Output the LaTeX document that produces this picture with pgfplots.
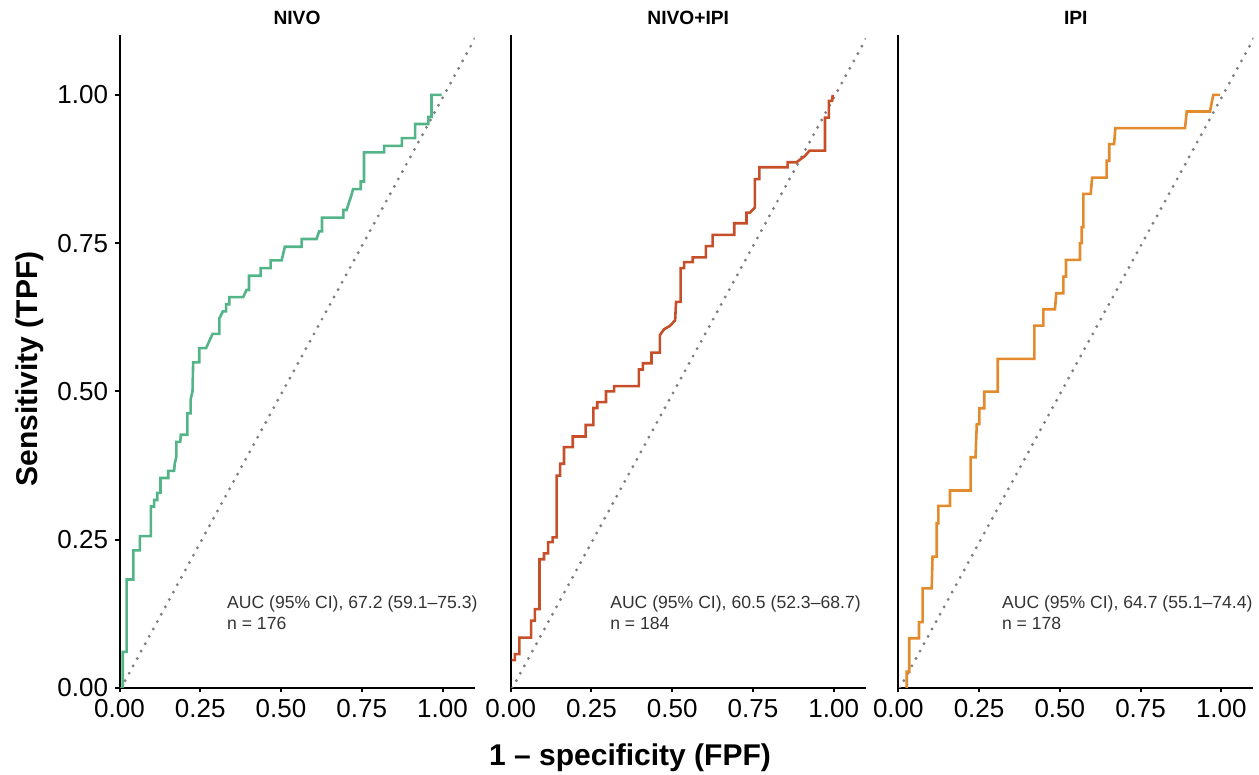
\documentclass[border=0pt]{standalone}
\usepackage{pgfplots}
\pgfplotsset{compat=1.18}
\usepackage{fontspec}
\setmainfont{Liberation Sans}
\definecolor{cgreen}{HTML}{52B487}
\definecolor{cred}{HTML}{C64F2A}
\definecolor{corange}{HTML}{E38A2C}
\definecolor{cdiag}{HTML}{7F7F7F}
\definecolor{ctext}{HTML}{333333}
\pgfplotsset{
  rocpanel/.style={
    scale only axis, width=177.5pt, height=326.5pt,
    anchor=south west,
    xmin=0, xmax=1.099, ymin=0, ymax=1.101,
    axis lines=left,
    axis line style={-, line width=1pt, black},
    tick align=outside,
    major tick length=2.2pt,
    tick style={line width=1pt, black},
    xtick={0,0.25,0.5,0.75,1},
    xticklabels={0.00,0.25,0.50,0.75,1.00},
    /pgf/number format/assume math mode=true,
    ticklabel style={font=\fontsize{13}{15}\selectfont, text=black},
    title style={at={(0.5,1)}, anchor=base, yshift=-1pt, font=\bfseries\fontsize{9.6}{11}\selectfont},
    clip mode=individual,
  },
  rocline/.style={line width=1.3pt, line join=miter},
  diagline/.style={cdiag, line width=1.6pt, line cap=round, dash pattern=on 0pt off 4.2pt},
}
\newcommand{\annot}[3]{%
  \node[anchor=base west, inner sep=0pt, text=ctext, font=\fontsize{8.8}{10}\selectfont] at (axis cs:#1,0.134) {#2};
  \node[anchor=base west, inner sep=0pt, text=ctext, font=\fontsize{8.8}{10}\selectfont] at (axis cs:#1,0.098) {#3};
}
\begin{document}
\begin{tikzpicture}
\useasboundingbox (0,0) rectangle (629.5pt,387.5pt);

% ---------- NIVO ----------
\begin{axis}[rocpanel, at={(59.75pt,43.5pt)}, title={NIVO},
  ytick={0,0.25,0.5,0.75,1}, yticklabels={0.00,0.25,0.50,0.75,1.00}]
\addplot[diagline] coordinates {(0.005,0) (1.105,1.1)};
\addplot[rocline, cgreen] coordinates {
(0.01,0)(0.01,0.061)(0.022,0.061)(0.022,0.183)(0.043,0.183)(0.043,0.232)(0.063,0.232)(0.063,0.256)
(0.097,0.256)(0.097,0.306)(0.107,0.306)(0.107,0.317)(0.117,0.317)(0.117,0.329)(0.127,0.329)(0.127,0.354)
(0.151,0.354)(0.151,0.366)(0.169,0.366)(0.171,0.378)(0.176,0.39)(0.176,0.415)(0.188,0.415)(0.19,0.427)
(0.21,0.427)(0.21,0.463)(0.22,0.463)(0.22,0.486)(0.226,0.50)(0.228,0.549)(0.247,0.549)(0.247,0.573)
(0.268,0.573)(0.288,0.597)(0.309,0.597)(0.309,0.623)(0.32,0.635)(0.33,0.635)(0.33,0.647)(0.34,0.647)
(0.34,0.659)(0.383,0.659)(0.393,0.671)(0.401,0.671)(0.401,0.695)(0.437,0.695)(0.437,0.708)(0.468,0.708)
(0.468,0.721)(0.502,0.721)(0.512,0.744)(0.564,0.744)(0.564,0.757)(0.61,0.757)(0.618,0.77)(0.627,0.77)
(0.627,0.793)(0.693,0.793)(0.693,0.806)(0.703,0.806)(0.718,0.831)(0.723,0.841)(0.747,0.841)(0.747,0.854)
(0.757,0.854)(0.757,0.903)(0.819,0.903)(0.819,0.914)(0.874,0.914)(0.874,0.927)(0.915,0.927)(0.915,0.951)
(0.956,0.951)(0.956,0.963)(0.966,0.963)(0.966,1.0)(0.997,1.0)};
\annot{0.332}{AUC (95\% CI), 67.2 (59.1–75.3)}{n = 176}
\end{axis}

% ---------- NIVO+IPI ----------
\begin{axis}[rocpanel, at={(255.35pt,43.5pt)}, title={NIVO+IPI}, ytick=\empty]
\addplot[diagline] coordinates {(0.005,0) (1.105,1.1)};
\addplot[rocline, cred] coordinates {
(0.003,0.047)(0.013,0.047)(0.013,0.057)(0.027,0.057)(0.027,0.085)(0.063,0.085)(0.063,0.1135)(0.075,0.1135)
(0.075,0.133)(0.089,0.133)(0.089,0.217)(0.103,0.217)(0.103,0.227)(0.116,0.227)(0.116,0.246)(0.13,0.246)
(0.13,0.254)(0.142,0.254)(0.142,0.358)(0.153,0.358)(0.153,0.378)(0.165,0.378)(0.165,0.406)(0.192,0.406)
(0.192,0.424)(0.232,0.424)(0.232,0.4435)(0.256,0.4435)(0.256,0.472)(0.268,0.472)(0.268,0.482)(0.295,0.482)
(0.295,0.50)(0.32,0.50)(0.32,0.509)(0.397,0.509)(0.397,0.537)(0.409,0.537)(0.409,0.5475)(0.436,0.5475)
(0.436,0.5655)(0.462,0.5655)(0.462,0.595)(0.475,0.605)(0.493,0.6105)(0.509,0.62)(0.512,0.651)(0.526,0.651)
(0.526,0.708)(0.537,0.708)(0.537,0.718)(0.5635,0.718)(0.5635,0.726)(0.604,0.726)(0.604,0.745)(0.625,0.745)
(0.625,0.764)(0.692,0.764)(0.692,0.7836)(0.73,0.7836)(0.73,0.8016)(0.741,0.8016)(0.756,0.81)(0.756,0.858)
(0.7697,0.858)(0.7697,0.878)(0.8575,0.878)(0.8575,0.8865)(0.885,0.8865)(0.911,0.897)(0.925,0.906)(0.973,0.906)
(0.973,0.9617)(0.985,0.9617)(0.985,0.99)(0.995,0.99)(0.997,1.0)};
\annot{0.307}{AUC (95\% CI), 60.5 (52.3–68.7)}{n = 184}
\end{axis}

% ---------- IPI ----------
\begin{axis}[rocpanel, at={(449.15pt,43.5pt)}, title={IPI}, ytick=\empty]
\addplot[diagline] coordinates {(0.005,0) (1.105,1.1)};
\addplot[rocline, corange] coordinates {
(0.026,0)(0.026,0.0275)(0.034,0.0275)(0.034,0.0838)(0.064,0.0838)(0.064,0.111)(0.0755,0.111)(0.0755,0.168)
(0.1034,0.168)(0.105,0.20)(0.106,0.2215)(0.119,0.2215)(0.119,0.2777)(0.124,0.2777)(0.124,0.307)(0.16,0.307)
(0.16,0.333)(0.224,0.333)(0.224,0.389)(0.239,0.389)(0.243,0.445)(0.251,0.445)(0.251,0.4716)(0.266,0.4716)
(0.266,0.4997)(0.308,0.4997)(0.308,0.5548)(0.421,0.5548)(0.421,0.611)(0.449,0.611)(0.449,0.6386)(0.485,0.6386)
(0.489,0.6656)(0.511,0.6656)(0.511,0.6936)(0.519,0.6936)(0.519,0.7218)(0.5625,0.7218)(0.5625,0.75)(0.568,0.75)
(0.568,0.777)(0.573,0.777)(0.573,0.833)(0.5956,0.833)(0.6,0.8606)(0.645,0.8606)(0.645,0.889)(0.653,0.889)
(0.653,0.917)(0.668,0.917)(0.672,0.944)(0.8876,0.944)(0.893,0.972)(0.965,0.972)(0.975,1.0)(0.996,1.0)};
\annot{0.32}{AUC (95\% CI), 64.7 (55.1–74.4)}{n = 178}
\end{axis}

% axis titles
\node[anchor=base, inner sep=0pt, font=\bfseries\fontsize{15}{17}\selectfont] at (315pt,4.5pt) {1 – specificity (FPF)};
\node[anchor=base, inner sep=0pt, rotate=90, font=\bfseries\fontsize{15}{17}\selectfont] at (19pt,203pt) {Sensitivity (TPF)};
\end{tikzpicture}
\end{document}
